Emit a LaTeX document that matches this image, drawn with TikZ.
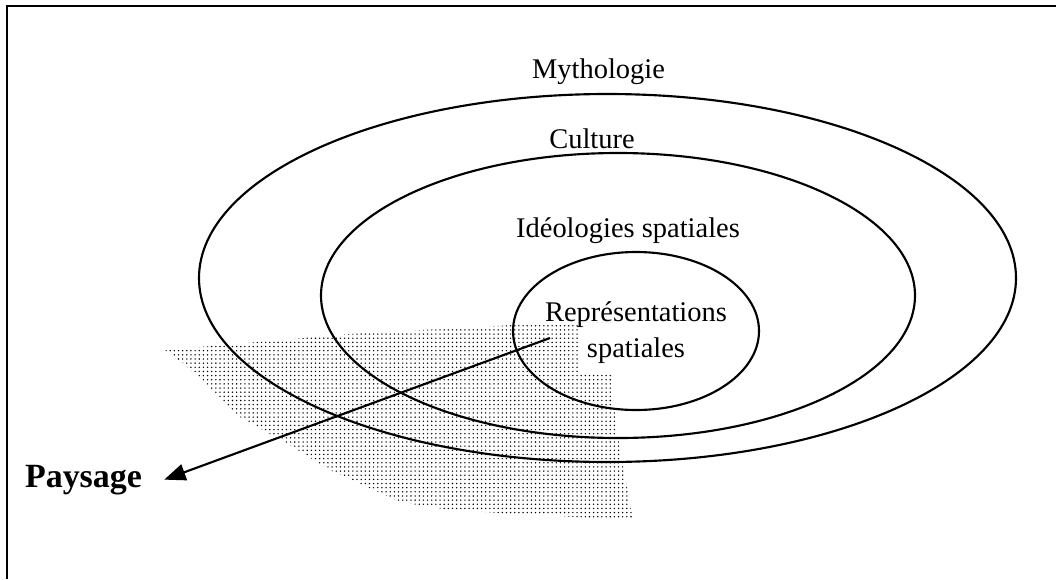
\documentclass[tikz,border=0pt]{standalone}
\usepackage{fontspec}
\setmainfont{Liberation Serif}
\usetikzlibrary{
    arrows.meta,
    positioning,
    shapes.geometric,
    patterns.meta
}
\newlength\pxu
\setlength\pxu{0.01481cm}
\tikzset{
    % --- Nested sphere (ellipse outline) ---
    sphere/.style = {
        ellipse, draw, line width=0.9pt,
        inner sep=0pt
    },
    % --- Sphere label ---
    sphere label/.style = {
        font=\fontsize{12}{15.2}\selectfont,
        align=center, inner sep=0pt
    },
    % --- Outcome label (bold, left side) ---
    outcome/.style = {
        font=\bfseries\fontsize{14.3}{17}\selectfont,
        inner xsep=9.2pt, inner ysep=0pt
    },
    % --- Dotted shadow area ---
    shadow area/.style = {
        pattern={Dots[distance=1.75pt, radius=0.33pt]},
        pattern color=black
    },
    % --- Projection arrow ---
    proj arrow/.style = {
        -{Triangle[length=9pt, width=7pt]}, line width=0.9pt
    },
    % --- Page frame ---
    frame/.style = {
        line width=1.1pt
    }
}

\begin{document}
\begin{tikzpicture}[x=0.01481cm, y=-0.01481cm]

\useasboundingbox (0,0) rectangle (1056,579);

% ---------------------------------------------------------
% Frame (top and left edges)
% ---------------------------------------------------------
\draw[frame] (7,579) -- (7,6) -- (1056,6);

% ---------------------------------------------------------
% Shadow of the landscape
% ---------------------------------------------------------
\fill[shadow area] (165,350) -- (350,334) -- (550,323) -- (612,322)
    -- (613,400) -- (620,450) -- (633,520) -- (500,513) -- (450,510)
    -- (400,502) -- (330,470) -- (293,447) -- (240,417) -- (183,363) -- cycle;
\fill[white] (580,323) rectangle (612,373);

% ---------------------------------------------------------
% Nested spheres
% ---------------------------------------------------------
\node[sphere, minimum width=817\pxu, minimum height=368\pxu] (Myth) at (607.5,278) {};
\node[sphere, minimum width=594\pxu, minimum height=285\pxu] (Cult) at (618,295.5) {};
\node[sphere, minimum width=246\pxu, minimum height=158\pxu] (Repr) at (636,331) {};

\node[sphere label, anchor=base] (MythLabel) at (598.5,78) {Mythologie};
\node[sphere label, anchor=base] (CultLabel) at (592,148) {Culture};
\node[sphere label, anchor=base] (IdeoLabel) at (628,237) {Idéologies spatiales};
\node[sphere label] (ReprLabel) at (636,333) {Représentations\\spatiales};

% ---------------------------------------------------------
% Landscape
% ---------------------------------------------------------
\node[outcome, anchor=base] (Paysage) at (83.5,487) {Paysage};
\coordinate (ArrowStart) at (550,338);
\draw[proj arrow] (ArrowStart) -- (Paysage.east);

\end{tikzpicture}
\end{document}
